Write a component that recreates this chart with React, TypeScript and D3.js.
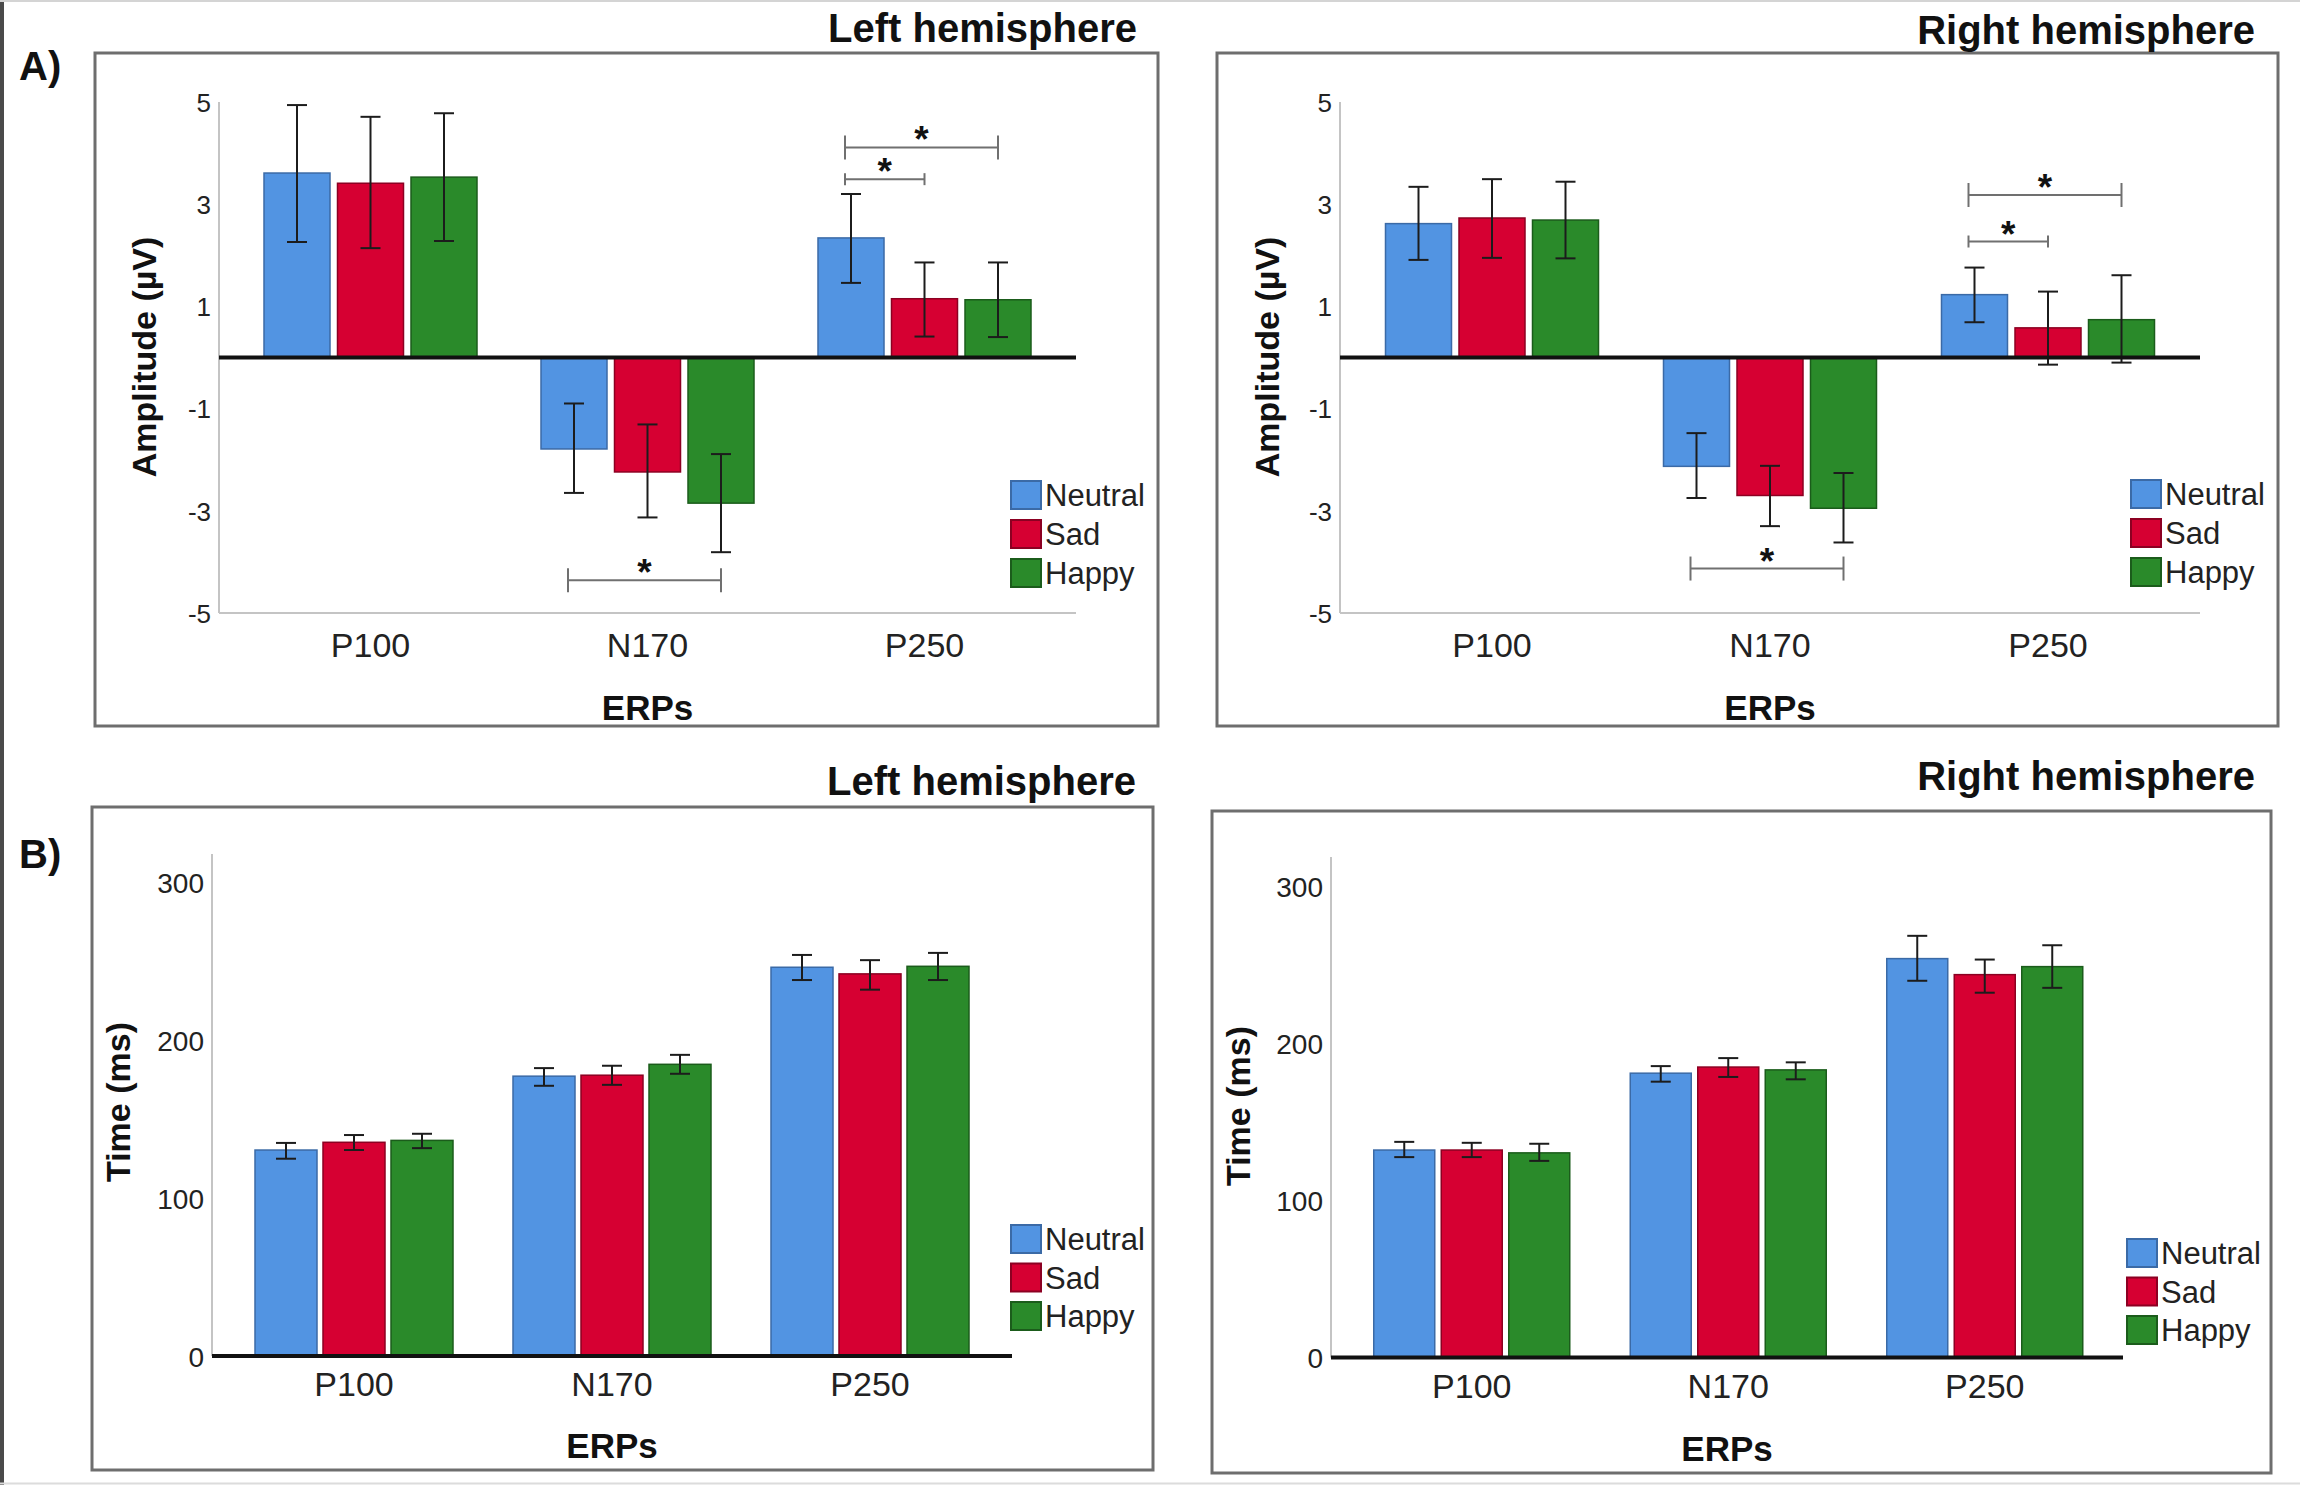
import React from 'react';
import * as d3 from 'd3';

// ---------- DATA ----------
const ERPS = ['P100', 'N170', 'P250'];
const EMOTIONS = ['Neutral', 'Sad', 'Happy'];
const FILLS = ['#5294e2', '#d60032', '#2a8a2a'];
const EDGES = ['#3b6aa6', '#8c0022', '#1b5c1b'];

const AMP_TICKS = [5, 3, 1, -1, -3, -5];
const TIME_TICKS = [0, 100, 200, 300];

// rows: ERP (P100, N170, P250); columns: Neutral, Sad, Happy
const ampLeftMean = [[3.61, 3.41, 3.53], [-1.79, -2.24, -2.85], [2.34, 1.15, 1.13]];
const ampLeftLow = [[2.26, 2.14, 2.28], [-2.65, -3.13, -3.81], [1.46, 0.41, 0.40]];
const ampLeftHigh = [[4.94, 4.71, 4.78], [-0.90, -1.31, -1.89], [3.20, 1.86, 1.86]];

const ampRightMean = [[2.62, 2.73, 2.69], [-2.13, -2.70, -2.95], [1.23, 0.58, 0.74]];
const ampRightLow = [[1.91, 1.95, 1.94], [-2.75, -3.30, -3.62], [0.69, -0.14, -0.10]];
const ampRightHigh = [[3.34, 3.49, 3.44], [-1.48, -2.12, -2.26], [1.76, 1.29, 1.61]];

const timeLeftMean = [[130.5, 135.4, 136.6], [177.3, 177.9, 184.8], [246.3, 242.1, 246.9]];
const timeLeftLow = [[125.0, 130.5, 131.7], [171.2, 171.8, 178.8], [238.2, 232.1, 238.2]];
const timeLeftHigh = [[135.0, 140.0, 140.8], [182.4, 183.9, 190.8], [254.1, 250.8, 255.4]];

const timeRightMean = [[132.0, 132.0, 130.2], [180.9, 184.8, 183.0], [253.8, 243.6, 248.7]];
const timeRightLow = [[127.5, 127.5, 125.1], [175.5, 178.5, 177.0], [239.7, 232.1, 235.2]];
const timeRightHigh = [[137.2, 136.6, 136.0], [185.4, 190.5, 187.8], [268.3, 253.2, 262.3]];

// significance brackets: ERP index, from emotion, to emotion, level (value)
const ampLeftSig = [
  { erp: 1, from: 0, to: 2, level: -4.36 },
  { erp: 2, from: 0, to: 2, level: 4.11 },
  { erp: 2, from: 0, to: 1, level: 3.49 },
];
const ampRightSig = [
  { erp: 1, from: 0, to: 2, level: -4.13 },
  { erp: 2, from: 0, to: 2, level: 3.18 },
  { erp: 2, from: 0, to: 1, level: 2.27 },
];

const FONT = '"Liberation Sans", Arial, Helvetica, sans-serif';

type Sig = { erp: number; from: number; to: number; level: number };

type PanelProps = {
  title: string;
  frame: [number, number, number, number];
  titleX: number;
  titleY: number;
  yLabel: string;
  yLabelX: number;
  yLabelY: number;
  axisX0: number;
  axisX1: number;
  axisTop: number;
  domain: [number, number];
  yRange: [number, number];
  ticks: number[];
  tickSize: number;
  bandRange: [number, number];
  barStep: number;
  barWidth: number;
  mean: number[][];
  low: number[][];
  high: number[][];
  sig: Sig[];
  bottomAxis: boolean;
  catY: number;
  erpY: number;
  legendX: number;
  legendY: number;
  legendStep: number;
};

function Panel(p: PanelProps) {
  const y = d3.scaleLinear().domain(p.domain).range(p.yRange);
  const outer = d3.scaleBand<string>().domain(ERPS).range(p.bandRange).padding(0);
  const innerP = (p.barStep - p.barWidth) / p.barStep;
  const groupW = p.barStep * (EMOTIONS.length - innerP);
  const inner = d3.scaleBand<string>().domain(EMOTIONS).range([0, groupW]).paddingInner(innerP).paddingOuter(0);
  const off = (outer.bandwidth() - groupW) / 2;
  const bx = (i: number, j: number) => (outer(ERPS[i]) as number) + off + (inner(EMOTIONS[j]) as number);
  const cx = (i: number, j: number) => bx(i, j) + inner.bandwidth() / 2;
  const y0 = y(0);
  const bottom = y(p.domain[0]);
  const [fx0, fy0, fx1, fy1] = p.frame;

  return (
    <g>
      <rect x={fx0} y={fy0} width={fx1 - fx0} height={fy1 - fy0} fill="none" stroke="#6e6e6e" strokeWidth={3} />
      <text x={p.titleX} y={p.titleY} textAnchor="end" fontFamily={FONT} fontWeight="bold" fontSize={40} fill="#111">
        {p.title}
      </text>
      {/* y axis */}
      <line x1={p.axisX0} x2={p.axisX0} y1={p.axisTop} y2={bottom} stroke="#c4c4c4" strokeWidth={2} />
      {p.bottomAxis && (
        <line x1={p.axisX0} x2={p.axisX1} y1={bottom} y2={bottom} stroke="#c4c4c4" strokeWidth={2} />
      )}
      {p.ticks.map((t) => (
        <text key={t} x={p.axisX0 - 8} y={y(t)} dy="0.38em" textAnchor="end" fontFamily={FONT} fontSize={p.tickSize} fill="#222">
          {t}
        </text>
      ))}
      <text
        transform={`translate(${p.yLabelX},${p.yLabelY}) rotate(-90)`}
        dy="0.36em"
        textAnchor="middle"
        fontFamily={FONT}
        fontWeight="bold"
        fontSize={34}
        fill="#111"
      >
        {p.yLabel}
      </text>
      {/* bars */}
      {ERPS.map((e, i) =>
        EMOTIONS.map((em, j) => {
          const v = p.mean[i][j];
          const top = Math.min(y(v), y0);
          const h = Math.abs(y(v) - y0);
          return (
            <rect
              key={e + em}
              x={bx(i, j)}
              y={top}
              width={inner.bandwidth()}
              height={h}
              fill={FILLS[j]}
              stroke={EDGES[j]}
              strokeWidth={1.5}
            />
          );
        })
      )}
      {/* error bars */}
      {ERPS.map((e, i) =>
        EMOTIONS.map((em, j) => {
          const c = cx(i, j);
          const lo = y(p.low[i][j]);
          const hi = y(p.high[i][j]);
          return (
            <g key={'err' + e + em} stroke="#1c1c1c" strokeWidth={2}>
              <line x1={c} x2={c} y1={lo} y2={hi} />
              <line x1={c - 10} x2={c + 10} y1={lo} y2={lo} />
              <line x1={c - 10} x2={c + 10} y1={hi} y2={hi} />
            </g>
          );
        })
      )}
      {/* zero line */}
      <line x1={p.axisX0} x2={p.axisX1} y1={y0} y2={y0} stroke="#111" strokeWidth={4} />
      {/* significance */}
      {p.sig.map((s, k) => {
        const a = cx(s.erp, s.from) - 6;
        const b = cx(s.erp, s.to);
        const ly = y(s.level);
        const cap = s.to - s.from > 1 ? 12 : 6;
        return (
          <g key={'sig' + k}>
            <g stroke="#707070" strokeWidth={2}>
              <line x1={a} x2={b} y1={ly} y2={ly} />
              <line x1={a} x2={a} y1={ly - cap} y2={ly + cap} />
              <line x1={b} x2={b} y1={ly - cap} y2={ly + cap} />
            </g>
            <text x={(a + b) / 2} y={ly + 5} textAnchor="middle" fontFamily={FONT} fontWeight="bold" fontSize={37} fill="#111">
              *
            </text>
          </g>
        );
      })}
      {/* category labels */}
      {ERPS.map((e, i) => (
        <text key={'cat' + e} x={cx(i, 1)} y={p.catY} textAnchor="middle" fontFamily={FONT} fontSize={34} fill="#222">
          {e}
        </text>
      ))}
      <text x={(p.axisX0 + p.axisX1) / 2} y={p.erpY} textAnchor="middle" fontFamily={FONT} fontWeight="bold" fontSize={35} fill="#111">
        ERPs
      </text>
      {/* legend */}
      {EMOTIONS.map((em, j) => (
        <g key={'leg' + em}>
          <rect x={p.legendX} y={p.legendY + j * p.legendStep} width={30} height={28} fill={FILLS[j]} stroke={EDGES[j]} strokeWidth={2} />
          <text x={p.legendX + 34} y={p.legendY + j * p.legendStep + 25} fontFamily={FONT} fontSize={31} fill="#222">
            {em}
          </text>
        </g>
      ))}
    </g>
  );
}

export default function App() {
  return (
    <svg
      width={2300}
      height={1485}
      viewBox="0 0 2300 1485"
      style={{ position: 'absolute', left: 0, top: 0, background: '#fff' }}
    >
      <rect x={0} y={0} width={2300} height={1485} fill="#fff" />
      <rect x={0} y={0} width={4} height={1485} fill="#4a4a4a" />
      <line x1={0} x2={2300} y1={1} y2={1} stroke="#d4d4d4" strokeWidth={2} />
      <line x1={0} x2={2300} y1={1483.5} y2={1483.5} stroke="#dcdcdc" strokeWidth={2} />

      <text x={19} y={80} fontFamily={FONT} fontWeight="bold" fontSize={40} fill="#111">A)</text>
      <text x={19} y={868} fontFamily={FONT} fontWeight="bold" fontSize={40} fill="#111">B)</text>

      <Panel
        title="Left hemisphere"
        frame={[95, 53, 1158, 726]}
        titleX={1137}
        titleY={42}
        yLabel="Amplitude (µV)"
        yLabelX={144}
        yLabelY={357}
        axisX0={219}
        axisX1={1076}
        axisTop={102}
        domain={[-5, 5]}
        yRange={[613, 102]}
        ticks={AMP_TICKS}
        tickSize={26}
        bandRange={[232, 1063]}
        barStep={73.5}
        barWidth={66}
        mean={ampLeftMean}
        low={ampLeftLow}
        high={ampLeftHigh}
        sig={ampLeftSig}
        bottomAxis={true}
        catY={657}
        erpY={720}
        legendX={1011}
        legendY={481}
        legendStep={39}
      />
      <Panel
        title="Right hemisphere"
        frame={[1217, 53, 2278, 726]}
        titleX={2255}
        titleY={44}
        yLabel="Amplitude (µV)"
        yLabelX={1267}
        yLabelY={357}
        axisX0={1340}
        axisX1={2200}
        axisTop={102}
        domain={[-5, 5]}
        yRange={[613, 102]}
        ticks={AMP_TICKS}
        tickSize={26}
        bandRange={[1353, 2187]}
        barStep={73.5}
        barWidth={66}
        mean={ampRightMean}
        low={ampRightLow}
        high={ampRightHigh}
        sig={ampRightSig}
        bottomAxis={true}
        catY={657}
        erpY={720}
        legendX={2131}
        legendY={480}
        legendStep={39}
      />
      <Panel
        title="Left hemisphere"
        frame={[92, 807, 1153, 1470]}
        titleX={1136}
        titleY={795}
        yLabel="Time (ms)"
        yLabelX={118}
        yLabelY={1102}
        axisX0={212}
        axisX1={1012}
        axisTop={854}
        domain={[0, 300]}
        yRange={[1356, 882.5]}
        ticks={TIME_TICKS}
        tickSize={28}
        bandRange={[225, 999]}
        barStep={68}
        barWidth={62}
        mean={timeLeftMean}
        low={timeLeftLow}
        high={timeLeftHigh}
        sig={[]}
        bottomAxis={false}
        catY={1396}
        erpY={1458}
        legendX={1011}
        legendY={1225}
        legendStep={38.5}
      />
      <Panel
        title="Right hemisphere"
        frame={[1212, 811, 2271, 1473]}
        titleX={2255}
        titleY={790}
        yLabel="Time (ms)"
        yLabelX={1238}
        yLabelY={1106}
        axisX0={1331}
        axisX1={2123}
        axisTop={857}
        domain={[0, 300]}
        yRange={[1357.5, 886]}
        ticks={TIME_TICKS}
        tickSize={28}
        bandRange={[1343.5, 2113]}
        barStep={67.5}
        barWidth={61}
        mean={timeRightMean}
        low={timeRightLow}
        high={timeRightHigh}
        sig={[]}
        bottomAxis={false}
        catY={1398}
        erpY={1461}
        legendX={2127}
        legendY={1239}
        legendStep={38.5}
      />
    </svg>
  );
}
